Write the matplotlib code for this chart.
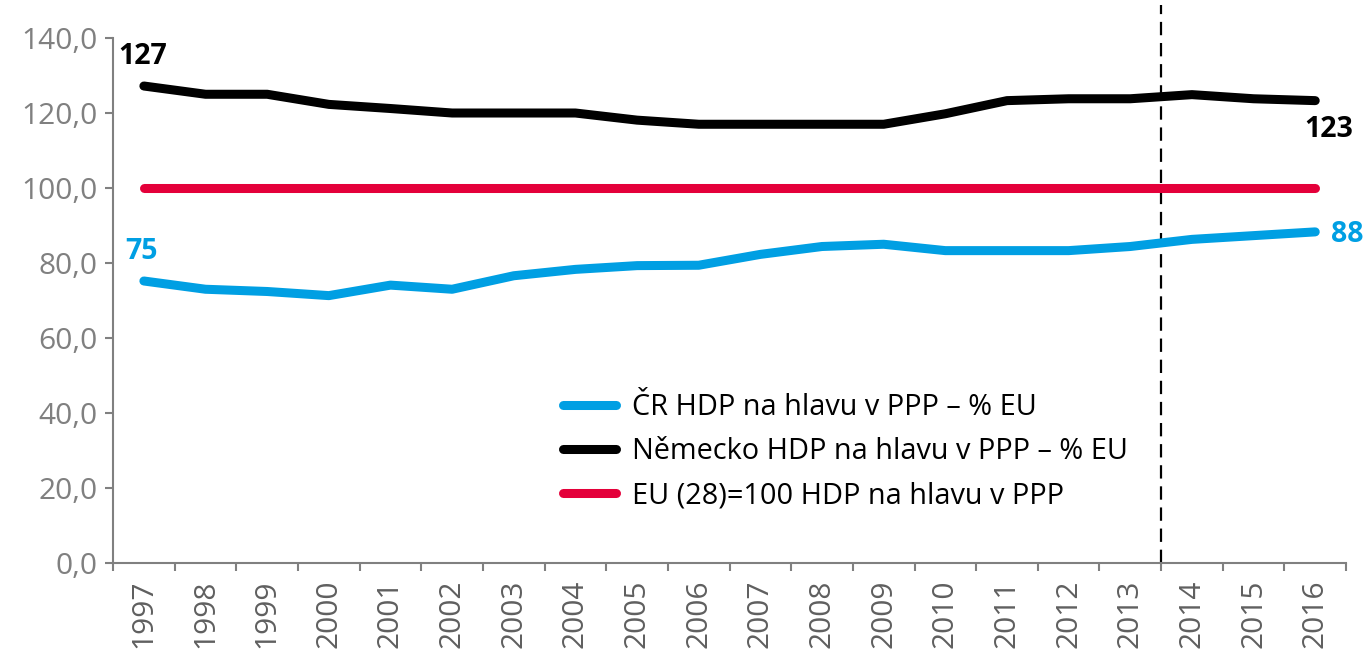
import numpy as np
import matplotlib
matplotlib.use("Agg")
import matplotlib.pyplot as plt

plt.rcParams['font.family'] = ['Open Sans', 'DejaVu Sans']

years = [str(y) for y in range(1997, 2017)]
cr = [75.2, 73.0, 72.4, 71.3, 74.1, 73.0, 76.6, 78.3, 79.3, 79.4, 82.3, 84.4,
      85.0, 83.3, 83.3, 83.3, 84.4, 86.3, 87.3, 88.3]
de = [127.2, 125.0, 125.0, 122.3, 121.2, 120.0, 120.0, 120.0, 118.1, 117.0,
      117.0, 117.0, 117.0, 119.8, 123.3, 123.8, 123.8, 124.9, 123.8, 123.3]
eu = [100.0] * 20
labels = ["ČR HDP na hlavu v PPP – % EU",
          "Německo HDP na hlavu v PPP – % EU",
          "EU (28)=100 HDP na hlavu v PPP"]
c_blue = "#009FE3"
c_red = "#E4003A"
grey = "#808080"

x = np.arange(len(years))

fig = plt.figure(figsize=(13.72, 6.6), dpi=100)
ax = fig.add_axes([0.0824, 0.147, 0.8987, 0.7954])

lw = 6.5
ax.plot(x, cr, color=c_blue, lw=lw, solid_capstyle='round', solid_joinstyle='round', label=labels[0])
ax.plot(x, de, color='black', lw=lw, solid_capstyle='round', solid_joinstyle='round', label=labels[1])
ax.plot(x, eu, color=c_red, lw=lw, solid_capstyle='round', solid_joinstyle='round', label=labels[2])

# forecast boundary, drawn a bit above the plot area
ax.axvline(16.5, ymax=1.063, color='black', lw=1.6, ls=(0, (6, 3.5)), zorder=0, clip_on=False)

ax.set_xlim(-0.5, len(years) - 0.5)
ax.set_ylim(0, 140)
ax.set_yticks(np.arange(0, 141, 20))
ax.set_yticklabels([f"{v:.1f}".replace(".", ",") for v in np.arange(0, 141, 20)])

ax.set_xticks(np.arange(-0.5, len(years), 1.0))
ax.set_xticklabels([])
ax.set_xticks(x, minor=True)
ax.set_xticklabels(years, minor=True, rotation=90)
ax.tick_params(axis='x', which='minor', length=0, pad=12, labelcolor="#5f5f5f")
ax.tick_params(axis='both', which='major', length=6, width=1.5, color=grey)
ax.tick_params(axis='both', which='both', labelsize=21.5)
ax.tick_params(axis='y', labelcolor=grey, pad=5)

for s in ['top', 'right']:
    ax.spines[s].set_visible(False)
for s in ['left', 'bottom']:
    ax.spines[s].set_color(grey)
    ax.spines[s].set_linewidth(1.5)

ax.annotate(f"{de[0]:.0f}", (x[0], de[0]), xytext=(-1, 11), textcoords='offset points',
            ha='center', va='bottom', fontsize=20.5, fontweight='bold', color='black')
ax.annotate(f"{de[-1]:.0f}", (x[-1], de[-1]), xytext=(10, -10), textcoords='offset points',
            ha='center', va='top', fontsize=20.5, fontweight='bold', color='black')
ax.annotate(f"{cr[0]:.0f}", (x[0], cr[0]), xytext=(-2, 11), textcoords='offset points',
            ha='center', va='bottom', fontsize=20.5, fontweight='bold', color=c_blue)
ax.annotate(f"{cr[-1]:.0f}", (x[-1], cr[-1]), xytext=(11, -2), textcoords='offset points',
            ha='left', va='center', fontsize=20.5, fontweight='bold', color=c_blue)

ax.legend(loc='upper left', bbox_to_anchor=(0.4103, 0.404), bbox_transform=fig.transFigure,
          frameon=False, fontsize=20.8, handlelength=1.85, handletextpad=0.55,
          labelspacing=0.52, borderpad=0, borderaxespad=0)

fig.savefig("out.png", dpi=100)
